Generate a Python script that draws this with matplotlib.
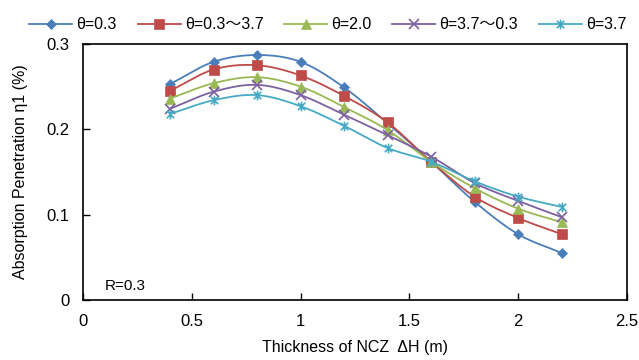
import numpy as np
import matplotlib.pyplot as plt
from matplotlib.path import Path

plt.rcParams['font.family'] = ['Liberation Sans', 'Noto Sans CJK SC', 'DejaVu Sans']

thickness = [0.4, 0.6, 0.8, 1.0, 1.2, 1.4, 1.6, 1.8, 2.0, 2.2]
theta_03 = [0.253, 0.279, 0.287, 0.279, 0.249, 0.207, 0.162, 0.115, 0.077, 0.055]
theta_03_37 = [0.245, 0.270, 0.275, 0.263, 0.239, 0.208, 0.162, 0.121, 0.096, 0.077]
theta_20 = [0.236, 0.254, 0.261, 0.250, 0.226, 0.199, 0.162, 0.131, 0.107, 0.091]
theta_37_03 = [0.224, 0.244, 0.252, 0.240, 0.217, 0.193, 0.168, 0.137, 0.116, 0.097]
theta_37 = [0.218, 0.234, 0.240, 0.227, 0.204, 0.178, 0.162, 0.139, 0.121, 0.109]

labels = ['θ=0.3', 'θ=0.3～3.7', 'θ=2.0', 'θ=3.7～0.3', 'θ=3.7']
colors = ['#4A7EBB', '#BE4B48', '#98B954', '#7D60A0', '#46AAC5']

# excel-style star marker: X plus a vertical bar
star = Path([(-1, -1), (1, 1), (-1, 1), (1, -1), (0, -1.3), (0, 1.3)],
            [Path.MOVETO, Path.LINETO, Path.MOVETO, Path.LINETO, Path.MOVETO, Path.LINETO])
markers = ['D', 's', '^', 'x', star]
msizes = [5.5, 7, 7, 7, 7]
medges = [0.5, 0.5, 0.5, 1.2, 1.2]


def smooth(x, y, n=20):
    # catmull-rom curve through the points, like excel's smoothed line
    x = np.asarray(x, float)
    y = np.asarray(y, float)
    px = np.concatenate([[2 * x[0] - x[1]], x, [2 * x[-1] - x[-2]]])
    py = np.concatenate([[2 * y[0] - y[1]], y, [2 * y[-1] - y[-2]]])
    xs, ys = [], []
    t = np.linspace(0, 1, n)
    for i in range(1, len(px) - 2):
        for p, out in ((px, xs), (py, ys)):
            p0, p1, p2, p3 = p[i - 1], p[i], p[i + 1], p[i + 2]
            out.append(0.5 * (2 * p1 + (-p0 + p2) * t
                              + (2 * p0 - 5 * p1 + 4 * p2 - p3) * t ** 2
                              + (-p0 + 3 * p1 - 3 * p2 + p3) * t ** 3))
    return np.concatenate(xs), np.concatenate(ys)


fig = plt.figure(figsize=(6.39, 3.6), dpi=100)
ax = fig.add_axes([0.130, 0.167, 0.851, 0.711])

series = [theta_03, theta_03_37, theta_20, theta_37_03, theta_37]
for vals, lab, c, m, ms, mew in zip(series, labels, colors, markers, msizes, medges):
    sx, sy = smooth(thickness, vals)
    ax.plot(sx, sy, color=c, lw=1.3)
    ax.plot(thickness, vals, linestyle='none', marker=m, markersize=ms, color=c,
            markeredgewidth=mew)
    ax.plot([], [], color=c, lw=1.3, marker=m, markersize=ms, label=lab,
            markeredgewidth=mew)

ax.set_xlim(0, 2.5)
ax.set_ylim(0, 0.3)
ax.set_xticks([0, 0.5, 1, 1.5, 2, 2.5])
ax.set_xticklabels(['0', '0.5', '1', '1.5', '2', '2.5'])
ax.set_yticks([0, 0.1, 0.2, 0.3])
ax.set_yticklabels(['0', '0.1', '0.2', '0.3'])
ax.tick_params(direction='in', length=5, width=1, labelsize=12, pad=10)
for s in ax.spines.values():
    s.set_linewidth(1.2)

ax.set_xlabel('Thickness of NCZ  ΔH (m)', fontsize=11.5, labelpad=8)
ax.set_ylabel('Absorption Penetration η1 (%)', fontsize=11.5, labelpad=13)
ax.text(0.1, 0.012, 'R=0.3', fontsize=11)

ax.legend(loc='lower center', bbox_to_anchor=(0.45, 1.015), ncol=5, frameon=False,
          fontsize=11.5, handlelength=2.7, columnspacing=1.3, handletextpad=0.25,
          borderaxespad=0.1)

fig.savefig('out.png', dpi=100)
